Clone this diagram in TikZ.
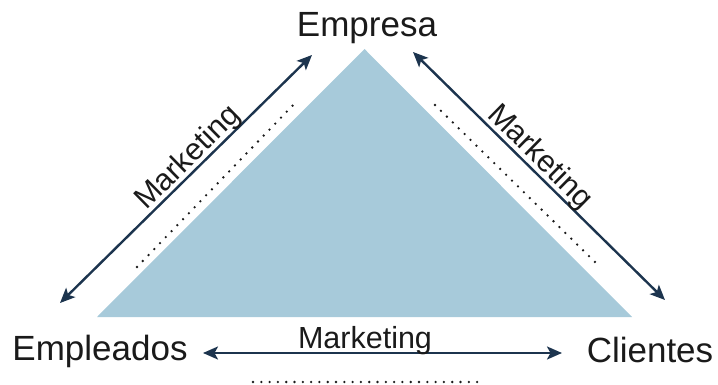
\documentclass[tikz,border=0pt]{standalone}
\usepackage{fontspec}
\setmainfont{Liberation Sans}
\usetikzlibrary{arrows.meta}

\definecolor{trifill}{RGB}{167,202,218}
\definecolor{navy}{RGB}{28,52,78}
\definecolor{ink}{RGB}{26,26,26}

\tikzset{
  party/.style={inner sep=0pt, anchor=base, text=ink,
    font=\fontsize{35}{40}\selectfont},
  mktlabel/.style={inner sep=0pt, anchor=base, text=ink,
    font=\fontsize{30.5}{34}\selectfont},
  link/.style={draw=navy, line width=2.4pt,
    {Stealth[length=15pt,width=13pt,inset=3.5pt]}-{Stealth[length=15pt,width=13pt,inset=3.5pt]}},
  dotrow/.style={draw=ink, line width=2.6pt, line cap=round,
    dash pattern=on 0pt off 8.3pt}
}

\begin{document}
\begin{tikzpicture}[x=1pt, y=-1pt]
  \useasboundingbox (0,0) rectangle (718,385);

  % central triangle
  \fill[trifill] (97,317) -- (364.5,49) -- (632,317) -- cycle;

  % the three parties
  \node[party] (empresa)   at (367,37)  {Empresa};
  \node[party] (empleados) at (100,360) {Empleados};
  \node[party] (clientes)  at (650,362) {Clientes};

  % arrow end points
  \coordinate (l1) at (60,303);
  \coordinate (l2) at (312,55);
  \coordinate (r1) at (413,52);
  \coordinate (r2) at (665,300);
  \coordinate (b1) at (203,353);
  \coordinate (b2) at (562,353);

  % two-way links
  \draw[link] (l1) -- (l2);
  \draw[link] (r1) -- (r2);
  \draw[link] (b1) -- (b2);

  % link labels
  \node[mktlabel, rotate=44.5]  (mktleft)   at (194,164) {Marketing};
  \node[mktlabel, rotate=-44.5] (mktright)  at (534,163) {Marketing};
  \node[mktlabel]               (mktbottom) at (365,348) {Marketing};

  % dotted blanks
  \coordinate (dl1) at (137,267);
  \coordinate (dl2) at (298,100);
  \coordinate (dr1) at (435,105);
  \coordinate (dr2) at (595,262);
  \coordinate (db1) at (253,382);
  \coordinate (db2) at (478,382);
  \draw[dotrow] (dl1) -- (dl2);
  \draw[dotrow] (dr1) -- (dr2);
  \draw[dotrow] (db1) -- (db2);
\end{tikzpicture}
\end{document}
